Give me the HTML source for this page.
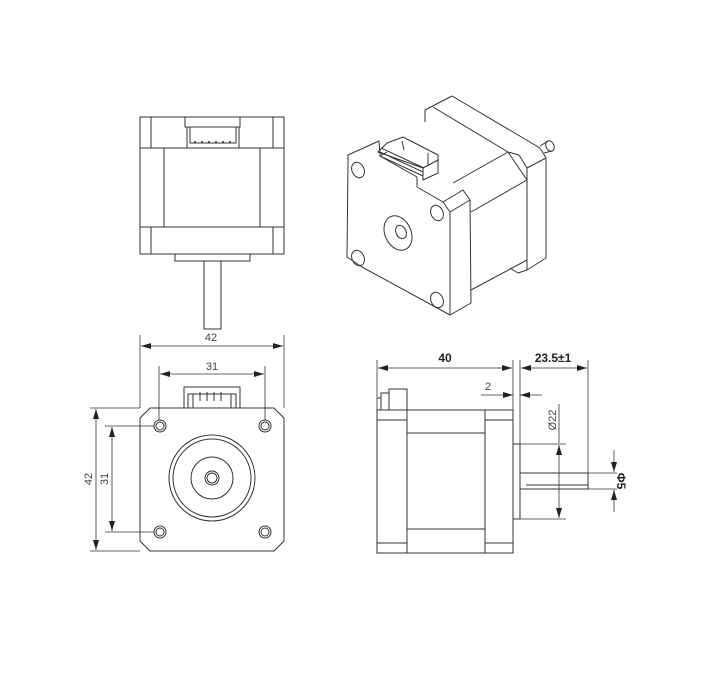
<!DOCTYPE html>
<html><head><meta charset="utf-8"><style>
html,body{margin:0;padding:0;background:#fff}
svg{display:block}
text{font-family:"Liberation Sans",sans-serif;fill:#444}
</style></head><body>
<svg width="701" height="700" viewBox="0 0 701 700" xmlns="http://www.w3.org/2000/svg">
<defs>
<marker id="a" viewBox="0 0 10 6" refX="10" refY="3" markerWidth="10" markerHeight="6" orient="auto-start-reverse" markerUnits="userSpaceOnUse"><path d="M0,0 L10,3 L0,6 z" fill="#222"/></marker>
</defs>
<g fill="none" stroke="#333" stroke-width="1">
<rect x="140" y="117" width="144" height="137"/>
<line x1="140" y1="148" x2="284" y2="148"/>
<line x1="140" y1="227" x2="284" y2="227"/>
<line x1="151" y1="117" x2="151" y2="148"/><line x1="273" y1="117" x2="273" y2="148"/>
<line x1="151" y1="227" x2="151" y2="254"/><line x1="273" y1="227" x2="273" y2="254"/>
<line x1="164" y1="148" x2="164" y2="227"/><line x1="260" y1="148" x2="260" y2="227"/>
<polyline points="185,117 185,127 240,127 240,117"/>
<rect x="187" y="127" width="52" height="21"/>
<polyline points="190,127 190,143 236,143 236,127"/>
<rect x="175" y="254" width="75" height="7"/>
<rect x="204" y="261" width="17" height="68"/>
</g>
<g fill="#333">
<circle cx="195" cy="142" r="1"/><circle cx="202" cy="142" r="1"/><circle cx="209" cy="142" r="1"/><circle cx="216" cy="142" r="1"/><circle cx="223" cy="142" r="1"/><circle cx="230" cy="142" r="1"/>
</g>

<g fill="none" stroke="#333" stroke-width="1" stroke-linejoin="round">
<polyline points="425,122 425,110 452,96 540,148"/>
<line x1="433" y1="107" x2="508" y2="152"/>
<line x1="453" y1="183" x2="508" y2="152"/>
<line x1="508" y1="152" x2="519" y2="155"/>
<line x1="508" y1="152" x2="527" y2="180"/>
<line x1="471" y1="212" x2="527" y2="180"/>
<line x1="471" y1="290" x2="527" y2="260"/>
<polyline points="519,155 527,168 546,158 540,148"/>
<line x1="527" y1="168" x2="527" y2="270"/>
<line x1="546" y1="158" x2="546" y2="258"/>
<line x1="527" y1="270" x2="546" y2="258"/>
<polyline points="510,268 518,273 527,270"/>
<ellipse cx="550" cy="146" rx="4" ry="5.5" transform="rotate(-25 550 146)"/>
<line x1="540" y1="146" x2="548" y2="141"/>
<line x1="544" y1="153" x2="552" y2="151"/>
<path d="M348,162 L348,155 L379,141 L380,156 L417,177 L417,187 L443,202 L450,212 L450,315 L362,267 L347,257 Z"/>
<polyline points="443,202 463,190 470,200 471,303 450,315"/>
<line x1="450" y1="212" x2="470" y2="200"/>
<line x1="380" y1="156" x2="387" y2="152"/>
<ellipse cx="358" cy="170" rx="6" ry="8" transform="rotate(-25 358 170)"/>
<ellipse cx="437" cy="213" rx="6" ry="8" transform="rotate(-25 437 213)"/>
<ellipse cx="358" cy="258" rx="6" ry="8" transform="rotate(-25 358 258)"/>
<ellipse cx="437" cy="300" rx="6" ry="8" transform="rotate(-25 437 300)"/>
<ellipse cx="398" cy="233" rx="13" ry="18" transform="rotate(-25 398 233)"/>
<ellipse cx="401" cy="232" rx="5" ry="7" transform="rotate(-25 401 232)"/>
<polygon points="387,143 403,137 438,155 438,173 423,180 423,168 378,152 387,143"/>
<line x1="380" y1="156" x2="423" y2="176"/>
<line x1="381" y1="148" x2="424" y2="168"/>
<line x1="380" y1="152" x2="423" y2="172"/>
<line x1="423" y1="168" x2="438" y2="160"/>
<polyline points="402,141 404,150"/><polyline points="428,153 428,165"/>
</g>

<g fill="none" stroke="#333" stroke-width="1">
<path d="M150,408 L274,408 L284,418 L284,541 L274,551 L150,551 L140,541 L140,418 Z"/>
<rect x="184" y="387" width="56" height="21"/>
<line x1="188" y1="394" x2="236" y2="394"/>
<rect x="188" y="394" width="5" height="14"/><rect x="231" y="394" width="5" height="14"/>
<line x1="200" y1="392" x2="200" y2="401"/><line x1="207" y1="392" x2="207" y2="401"/><line x1="214" y1="392" x2="214" y2="401"/><line x1="221" y1="392" x2="221" y2="401"/>
<circle cx="160" cy="426" r="6"/><circle cx="160" cy="426" r="4"/>
<circle cx="265" cy="426" r="6"/><circle cx="265" cy="426" r="4"/>
<circle cx="160" cy="532" r="6"/><circle cx="160" cy="532" r="4"/>
<circle cx="265" cy="532" r="6"/><circle cx="265" cy="532" r="4"/>
<circle cx="212" cy="478" r="43"/><circle cx="212" cy="478" r="39"/>
<circle cx="212" cy="478" r="21"/><circle cx="212" cy="478" r="7"/><circle cx="212" cy="478" r="5"/>
</g>
<g stroke="#333" stroke-width="0.8" fill="none">
<line x1="140" y1="335" x2="140" y2="408"/><line x1="284" y1="335" x2="284" y2="408"/>
<line x1="141" y1="346" x2="283" y2="346" marker-start="url(#a)" marker-end="url(#a)"/>
<line x1="159" y1="366" x2="159" y2="420"/><line x1="265" y1="366" x2="265" y2="420"/>
<line x1="160" y1="374" x2="264" y2="374" marker-start="url(#a)" marker-end="url(#a)"/>
<line x1="90" y1="408" x2="140" y2="408"/><line x1="90" y1="551" x2="140" y2="551"/>
<line x1="96" y1="409" x2="96" y2="550" marker-start="url(#a)" marker-end="url(#a)"/>
<line x1="105" y1="426" x2="154" y2="426"/><line x1="105" y1="532" x2="154" y2="532"/>
<line x1="112" y1="427" x2="112" y2="531" marker-start="url(#a)" marker-end="url(#a)"/>
</g>
<text x="211" y="341" font-size="11" text-anchor="middle">42</text>
<text x="212" y="370" font-size="11" text-anchor="middle">31</text>
<text x="0" y="0" font-size="11" text-anchor="middle" transform="translate(92,479) rotate(-90)">42</text>
<text x="0" y="0" font-size="11" text-anchor="middle" transform="translate(108,479) rotate(-90)">31</text>

<g fill="none" stroke="#333" stroke-width="1">
<rect x="377" y="410" width="136" height="143"/>
<line x1="407" y1="410" x2="407" y2="553"/><line x1="485" y1="410" x2="485" y2="553"/>
<line x1="377" y1="420" x2="407" y2="420"/><line x1="485" y1="420" x2="513" y2="420"/>
<line x1="377" y1="543" x2="407" y2="543"/><line x1="485" y1="543" x2="513" y2="543"/>
<line x1="407" y1="433" x2="485" y2="433"/><line x1="407" y1="529" x2="485" y2="529"/>
<rect x="389" y="389" width="18" height="21"/>
<polyline points="381,410 381,393 389,393"/><line x1="377" y1="398" x2="381" y2="398"/>
<rect x="513" y="444" width="7" height="75"/>
<rect x="520" y="473" width="68" height="16"/>
<line x1="526" y1="485" x2="588" y2="485"/>
</g>
<g stroke="#333" stroke-width="0.8" fill="none">
<line x1="377" y1="360" x2="377" y2="410"/><line x1="513" y1="360" x2="513" y2="410"/>
<line x1="520" y1="360" x2="520" y2="444"/><line x1="588" y1="360" x2="588" y2="473"/>
<line x1="378" y1="368" x2="512" y2="368" marker-start="url(#a)" marker-end="url(#a)"/>
<line x1="521" y1="368" x2="587" y2="368" marker-start="url(#a)" marker-end="url(#a)"/>
<line x1="481" y1="395" x2="513" y2="395" marker-end="url(#a)"/>
<line x1="542" y1="395" x2="520" y2="395" marker-end="url(#a)"/>
<line x1="520" y1="444" x2="566" y2="444"/><line x1="520" y1="519" x2="566" y2="519"/>
<line x1="559" y1="404" x2="559" y2="443"/>
<line x1="559" y1="460" x2="559" y2="445" marker-end="url(#a)"/>
<line x1="559" y1="460" x2="559" y2="518" marker-end="url(#a)"/>
<line x1="588" y1="473" x2="617" y2="473"/><line x1="588" y1="489" x2="617" y2="489"/>
<line x1="614" y1="450" x2="614" y2="472" marker-end="url(#a)"/>
<line x1="614" y1="512" x2="614" y2="490" marker-end="url(#a)"/>
</g>
<text x="445" y="362" font-size="12" font-weight="bold" text-anchor="middle" style="fill:#222">40</text>
<text x="553" y="362" font-size="12" font-weight="bold" text-anchor="middle" style="fill:#222">23.5±1</text>
<text x="488" y="390" font-size="11" text-anchor="middle">2</text>
<text x="0" y="0" font-size="11" text-anchor="middle" transform="translate(556,420) rotate(-90)">Ø22</text>
<text x="0" y="0" font-size="12" font-weight="bold" text-anchor="middle" transform="translate(617,481) rotate(90)" style="fill:#222">Φ5</text>
</svg>
</body></html>
